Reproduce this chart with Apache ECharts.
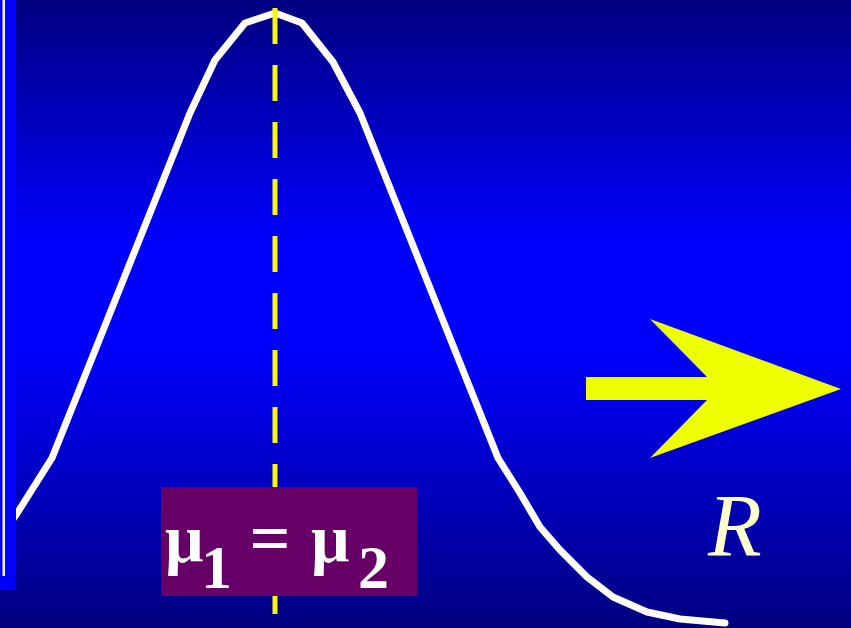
<!DOCTYPE html>
<html>
<head>
<meta charset="utf-8">
<script src="https://cdn.jsdelivr.net/npm/echarts@6/dist/echarts.min.js"></script>
<style>html,body{margin:0;padding:0;background:#000080;}#c{width:851px;height:628px;}</style>
</head>
<body>
<div id="c"></div>
<script>
// Distribution curve (x relative to mean mu, y = height)
var curveX = [-275, -259, -223, -85, -60, -30, 0, 27, 58, 85, 223, 245, 265, 285, 312, 338, 372, 405, 450];
var curveY = [91, 113, 170, 515, 568, 605, 615, 605, 566, 515, 170, 135, 101, 78, 51, 31, 16, 9, 5];
// Mean line (mu1 = mu2 at x = 0)
var meanX = [0, 0];
var meanY = [620, 8];
var labelMu = ['\u03bc', '1', '=', '\u03bc', '2'];
var labelR = 'R';

var chart = echarts.init(document.getElementById('c'), null, {renderer: 'canvas'});
var curveData = curveX.map(function (x, i) { return [x, curveY[i]]; });
var meanData = meanX.map(function (x, i) { return [x, meanY[i]]; });

function txt(t, x, baseline, size, opts) {
  opts = opts || {};
  return {
    type: 'text', z: 120, x: x, y: baseline - 0.26 * size,
    style: {
      text: t, fill: opts.fill || '#ffffff',
      fontFamily: 'Liberation Serif',
      fontSize: size,
      fontWeight: opts.weight || 'bold',
      fontStyle: opts.style || 'normal',
      align: opts.align || 'left', verticalAlign: 'middle'
    }
  };
}

chart.setOption({
  animation: false,
  grid: {left: 0, right: 0, top: 0, bottom: 0},
  xAxis: {type: 'value', min: -275, max: 576, show: false},
  yAxis: {type: 'value', min: 0, max: 628, show: false},
  series: [
    {
      type: 'line', data: curveData, symbol: 'none', smooth: false, z: 5,
      lineStyle: {color: '#fffdf6', width: 7, cap: 'round', join: 'round'}
    },
    {
      type: 'line', data: meanData, symbol: 'none', z: 6,
      lineStyle: {color: '#f8f800', width: 5, type: [36, 21], cap: 'butt'}
    }
  ],
  graphic: [
    {
      type: 'rect', z: -100, shape: {x: 0, y: 0, width: 851, height: 628},
      style: {fill: new echarts.graphic.LinearGradient(0, 0, 0, 1, [
        {offset: 0, color: '#000080'},
        {offset: 0.39, color: '#0000ff'},
        {offset: 0.55, color: '#0000ff'},
        {offset: 1, color: '#000080'}
      ])}
    },
    {type: 'rect', z: 100, shape: {x: 0, y: 0, width: 16, height: 590}, style: {fill: '#0000ff'}},
    {type: 'rect', z: 101, shape: {x: 2.5, y: 0, width: 2.5, height: 576}, style: {fill: '#f4f4ff'}},
    {type: 'rect', z: 110, shape: {x: 161, y: 487, width: 256, height: 109}, style: {fill: '#660066'}},
    {
      type: 'polygon', z: 110,
      shape: {points: [[586, 377], [707, 377], [650, 319], [841, 389], [650, 458], [707, 400], [586, 400]]},
      style: {fill: '#eeff00'}
    },
    txt(labelMu[0], 165, 562, 68),
    txt(labelMu[1], 201, 588, 62),
    txt(labelMu[2], 270, 562, 72, {align: 'center'}),
    txt(labelMu[3], 311, 562, 68),
    txt(labelMu[4], 358, 588, 62),
    txt(labelR, 708, 555, 88, {style: 'italic', weight: 'normal', fill: '#ffffcc'})
  ]
});
</script>
</body>
</html>
